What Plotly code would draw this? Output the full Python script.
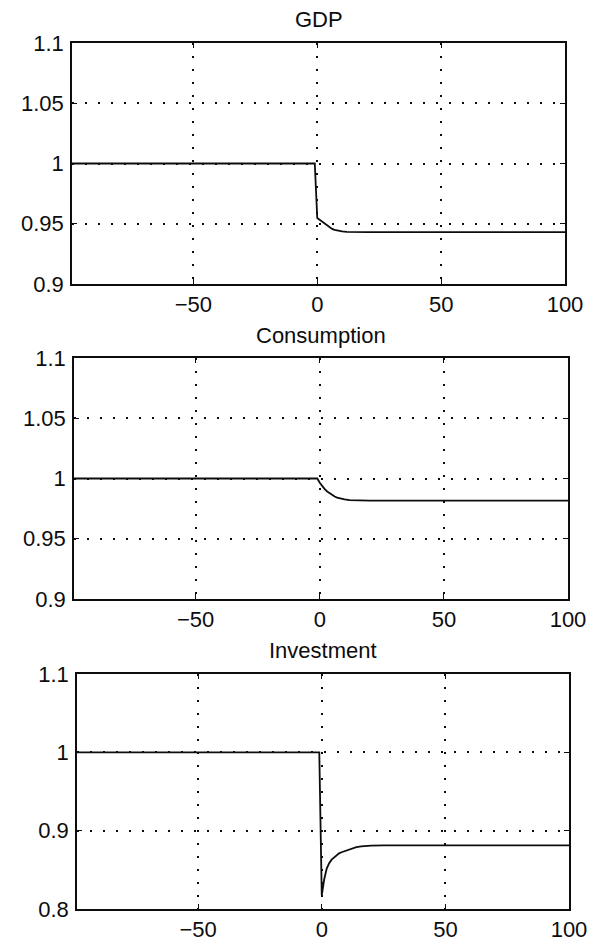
import plotly.graph_objects as go

# ---- data ----
t = [-99, -1, 0, 1, 2, 3, 4, 5, 6, 7, 8, 10, 12, 14, 16, 18, 20, 25, 30, 40, 50, 60, 70, 80, 90, 100]

gdp = [1.0, 1.0, 0.9547, 0.9532, 0.9515, 0.9497, 0.948, 0.9467, 0.9457, 0.9449, 0.9443,
       0.9436, 0.9432, 0.943, 0.943, 0.943, 0.943, 0.943, 0.943, 0.943, 0.943, 0.943,
       0.943, 0.943, 0.943, 0.943]

consumption = [1.0, 1.0, 0.9965, 0.9935, 0.9912, 0.9892, 0.9876, 0.9862, 0.9851, 0.9842,
               0.9835, 0.9826, 0.982, 0.9818, 0.9817, 0.9816, 0.9816, 0.9816, 0.9816,
               0.9816, 0.9816, 0.9816, 0.9816, 0.9816, 0.9816, 0.9816]

investment = [1.0, 1.0, 0.8175, 0.838, 0.8515, 0.8585, 0.863, 0.866, 0.869, 0.871, 0.8725,
              0.875, 0.8775, 0.879, 0.880, 0.8805, 0.881, 0.8812, 0.8812, 0.8812, 0.8812,
              0.8812, 0.8812, 0.8812, 0.8812, 0.8812]

titles = ["GDP", "Consumption", "Investment"]
series = [gdp, consumption, investment]

x_ticks = [-50, 0, 50, 100]
x_ticktext = ["\u221250", "0", "50", "100"]
y_ticks = [[0.9, 0.95, 1.0, 1.05, 1.1], [0.9, 0.95, 1.0, 1.05, 1.1], [0.8, 0.9, 1.0, 1.1]]
y_ticktext = [["0.9", "0.95", "1", "1.05", "1.1"], ["0.9", "0.95", "1", "1.05", "1.1"],
              ["0.8", "0.9", "1", "1.1"]]
y_ranges = [[0.9, 1.1], [0.9, 1.1], [0.8, 1.1]]
x_range = [-99, 100]

# ---- layout in pixels ----
W, H = 599, 950
boxes = [(72, 565, 43, 284), (74, 568, 358, 599), (77, 569, 674, 909)]
title_mid = [20, 335, 650]

FONT = "Liberation Sans, Arial, Helvetica, sans-serif"
INK = "#0d0d0d"

fig = go.Figure()
layout = dict(template="none", width=W, height=H, autosize=False,
              margin=dict(l=0, r=0, t=0, b=0, pad=0),
              paper_bgcolor="white", plot_bgcolor="white", showlegend=False,
              font=dict(family=FONT, size=22, color=INK))
annotations = []

for i, (ys, ttl) in enumerate(zip(series, titles)):
    n = "" if i == 0 else str(i + 1)
    x0, x1, y0, y1 = boxes[i]
    fig.add_trace(go.Scatter(x=t, y=ys, mode="lines", xaxis="x" + n, yaxis="y" + n,
                             line=dict(color=INK, width=1.8), hoverinfo="skip"))
    common = dict(showline=True, linecolor=INK, linewidth=1.7, mirror="ticks",
                  ticks="inside", ticklen=5, tickwidth=1.2, tickcolor=INK,
                  showgrid=True, gridcolor=INK, gridwidth=1.7, griddash="2px,11px",
                  zeroline=False, automargin=False,
                  tickfont=dict(family=FONT, size=22, color=INK))
    layout["xaxis" + n] = dict(domain=[x0 / W, x1 / W], range=x_range, anchor="y" + n,
                               tickvals=x_ticks, ticktext=x_ticktext, ticklabelstandoff=0,
                               **common)
    layout["yaxis" + n] = dict(domain=[1 - y1 / H, 1 - y0 / H], range=y_ranges[i],
                               anchor="x" + n, tickvals=y_ticks[i], ticktext=y_ticktext[i],
                               ticklabelstandoff=2, **common)
    annotations.append(dict(text=ttl, x=(x0 + x1) / 2 / W, y=1 - title_mid[i] / H,
                            xref="paper", yref="paper", xanchor="center", yanchor="middle",
                            showarrow=False,
                            font=dict(family=FONT, size=22, color=INK)))

layout["annotations"] = annotations
fig.update_layout(**layout)
fig.write_html("out.html")
